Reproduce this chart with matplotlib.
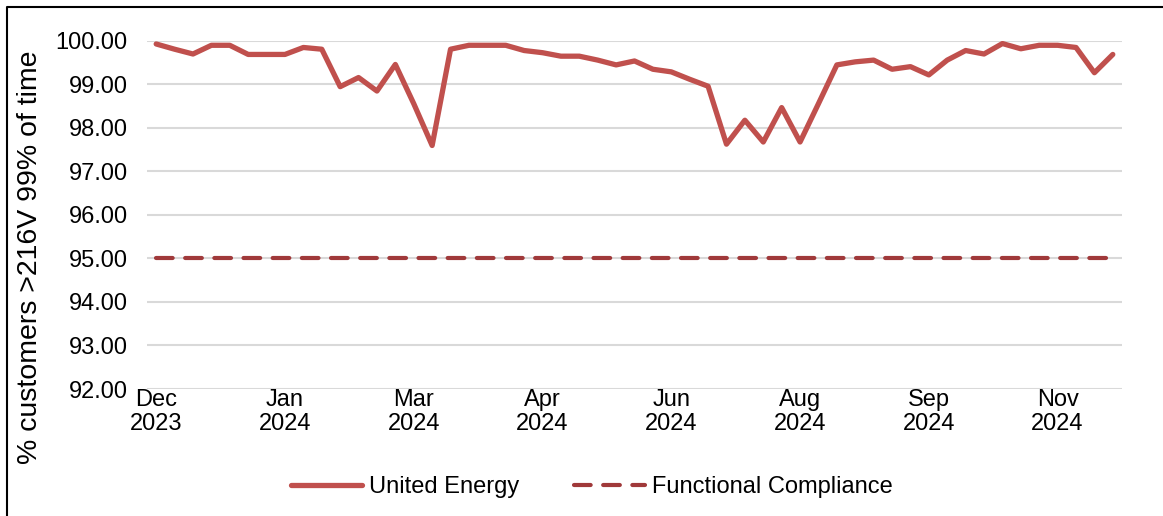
import matplotlib
matplotlib.use("Agg")
import matplotlib.pyplot as plt
from matplotlib.lines import Line2D

# Weekly observations, Dec 2023 - Nov 2024
united_energy = [99.92, 99.80, 99.69, 99.89, 99.89, 99.68, 99.68, 99.68, 99.84, 99.80,
                 98.94, 99.15, 98.84, 99.45, 98.55, 97.59, 99.80, 99.89, 99.89, 99.89,
                 99.77, 99.72, 99.64, 99.64, 99.55, 99.44, 99.53, 99.34, 99.28, 99.11,
                 98.95, 97.62, 98.17, 97.67, 98.46, 97.67, 98.55, 99.44, 99.51, 99.55,
                 99.34, 99.40, 99.21, 99.55, 99.77, 99.69, 99.93, 99.81, 99.89, 99.89,
                 99.84, 99.26, 99.68]
functional_compliance = [95.0] * len(united_energy)
tick_labels = ["Dec\n2023", "Jan\n2024", "Mar\n2024", "Apr\n2024",
               "Jun\n2024", "Aug\n2024", "Sep\n2024", "Nov\n2024"]
tick_step = 7
y_ticks = [92, 93, 94, 95, 96, 97, 98, 99, 100]

plt.rcParams['font.family'] = ['Liberation Sans', 'DejaVu Sans']
FS = 17

W, H = 1163, 516
fig = plt.figure(figsize=(W / 100, H / 100), dpi=100)
ax = fig.add_axes([147 / W, (H - 389) / H, (1122 - 147) / W, (389 - 40.5) / H])

x = list(range(len(united_energy)))
ax.plot(x, functional_compliance, color='#A0393A', lw=3.0, dashes=(4, 3),
        solid_capstyle='round', dash_capstyle='round', zorder=3)
ax.plot(x, united_energy, color='#C0504D', lw=3.8, solid_joinstyle='round',
        solid_capstyle='round', zorder=4)

ax.set_xlim(-0.5, len(united_energy) - 0.5)
ax.set_ylim(92, 100)
ax.set_yticks(y_ticks)
ax.set_yticklabels([f"{v:.2f}" for v in y_ticks], fontsize=FS)
ax.set_xticks(x[::tick_step])
ax.set_xticklabels(tick_labels, fontsize=FS, linespacing=1.1)
ax.tick_params(axis='both', length=0, colors='black')
ax.tick_params(axis='y', pad=14)
ax.tick_params(axis='x', pad=0)
ax.grid(axis='y', color='#D9D9D9', lw=1.5, zorder=0)
ax.set_axisbelow(True)
for s in ax.spines.values():
    s.set_visible(False)

fig.text(30 / W, 1 - 257 / H, "% customers >216V 99% of time", fontsize=20.5,
         rotation=90, ha='center', va='center')

handles = [Line2D([], [], color='#C0504D', lw=3.8, solid_capstyle='round'),
           Line2D([], [], color='#A0393A', lw=3.0, dashes=(4, 3), dash_capstyle='round')]
fig.legend(handles, ["United Energy", "Functional Compliance"], loc='center',
           bbox_to_anchor=(592 / W, 1 - 487 / H), ncol=2, frameon=False,
           fontsize=FS, handlelength=3.0, handletextpad=0.3, columnspacing=2.3)

# partial frame (left and top edges visible)
fig.add_artist(Line2D([7 / W, 7 / W, 1], [0, 1 - 7 / H, 1 - 7 / H], color='black',
                      lw=1.5, transform=fig.transFigure))

fig.savefig("out.png", dpi=100)
